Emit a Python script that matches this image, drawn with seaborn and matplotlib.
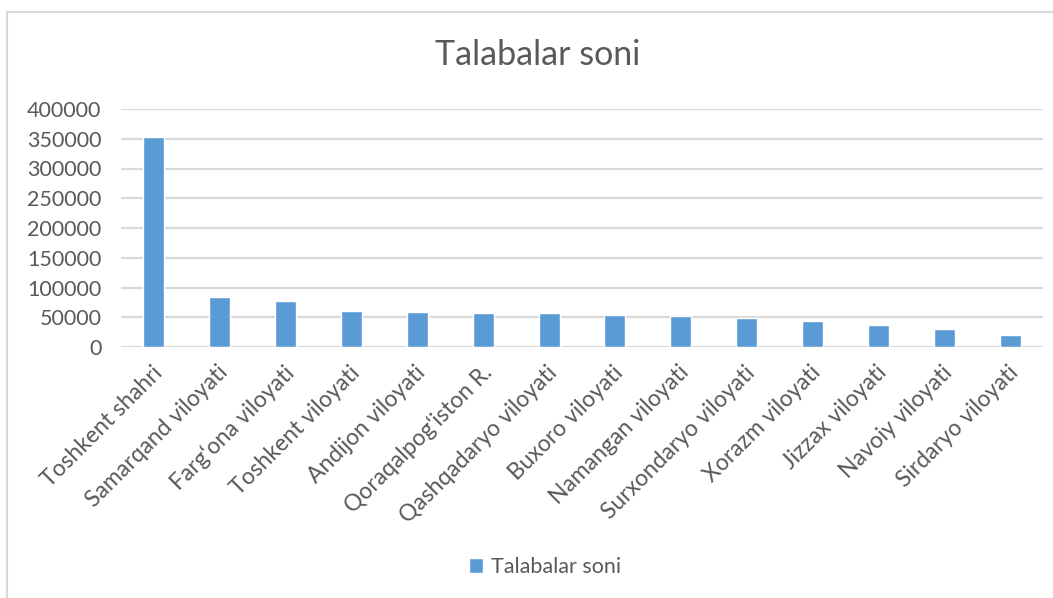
import matplotlib
matplotlib.use("Agg")
import matplotlib.pyplot as plt
import seaborn as sns
import pandas as pd
from matplotlib.patches import Rectangle
from matplotlib.transforms import ScaledTranslation

categories = ["Toshkent shahri", "Samarqand viloyati", "Farg‘ona viloyati", "Toshkent viloyati",
              "Andijon viloyati", "Qoraqalpog‘iston R.", "Qashqadaryo viloyati", "Buxoro viloyati",
              "Namangan viloyati", "Surxondaryo viloyati", "Xorazm viloyati", "Jizzax viloyati",
              "Navoiy viloyati", "Sirdaryo viloyati"]
values = [353000, 84000, 77000, 60000, 58000, 57000, 56500, 53000, 51500, 49500, 44500, 36500, 29500, 20700]
series_name = "Talabalar soni"
yticks = [0, 50000, 100000, 150000, 200000, 250000, 300000, 350000, 400000]

sns.set_theme(style="white")
plt.rcParams['font.family'] = ['Lato', 'DejaVu Sans']
text_color = "#595959"
bar_color = "#5B9BD5"
grid_color = "#D9D9D9"

df = pd.DataFrame({"cat": categories, "val": values, "series": series_name})

fig = plt.figure(figsize=(10.53, 5.98), dpi=100)
ax = fig.add_axes([121/1053, 1-347/598, (1043-121)/1053, (347-109)/598])

sns.barplot(data=df, x="cat", y="val", hue="series", palette=[bar_color], width=0.32,
            ax=ax, legend=True, saturation=1)

ax.set_ylim(0, 400000)
ax.set_yticks(yticks)
ax.set_yticklabels([str(v) for v in yticks], fontsize=15.5, color=text_color)
ax.set_xlim(-0.5, len(categories) - 0.5)
ax.yaxis.grid(True, color=grid_color, linewidth=1.6)
ax.set_axisbelow(True)
for s in ax.spines.values():
    s.set_visible(False)
ax.tick_params(axis="y", length=0, pad=14)
ax.tick_params(axis="x", length=0, pad=16)
ax.set_xlabel("")
ax.set_ylabel("")
offset = ScaledTranslation(5/100, 0, fig.dpi_scale_trans)
for lbl in ax.get_xticklabels():
    lbl.set_rotation(45)
    lbl.set_ha("right")
    lbl.set_va("center")
    lbl.set_rotation_mode("anchor")
    lbl.set_fontsize(16.5)
    lbl.set_color(text_color)
    lbl.set_transform(lbl.get_transform() + offset)

handles, labels = ax.get_legend_handles_labels()
ax.get_legend().remove()
fig.legend(handles, labels, loc="center", bbox_to_anchor=(545/1053, 1-567/598), frameon=False,
           fontsize=15.5, labelcolor=text_color, handlelength=0.65, handleheight=0.65, handletextpad=0.35)

fig.text(538/1053, 1-55/598, "Talabalar soni", ha="center", va="center", fontsize=24.5, color=text_color)

fig.patches.append(Rectangle((7/1053, -0.05), 1.2, 1-12/598 + 0.05, transform=fig.transFigure,
                             fill=False, edgecolor=grid_color, linewidth=1.5))

fig.savefig("out.png", dpi=100, facecolor="white")
